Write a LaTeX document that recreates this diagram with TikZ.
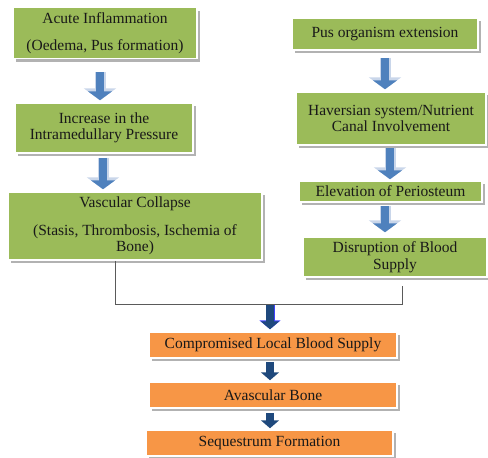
\documentclass[tikz,border=0pt]{standalone}
\usepackage{fontspec}
\setmainfont{Liberation Serif}
\usetikzlibrary{arrows.meta,shadows,calc}
\definecolor{boxgreen}{HTML}{9BBB59}
\definecolor{boxorange}{HTML}{F79646}
\definecolor{arrblue}{HTML}{4F81BD}
\definecolor{arrlight}{HTML}{C9D6EA}
\definecolor{arrdark}{HTML}{1F497D}
\definecolor{linegrey}{HTML}{5A5A5A}
\begin{document}
\begin{tikzpicture}[x=1pt,y=-1pt,
  box/.style={draw=white, line width=1.5pt, inner sep=2pt, align=center,
    font=\fontsize{15.5}{16.5}\selectfont, text=black!90,
    drop shadow={shadow xshift=3pt, shadow yshift=-3pt, fill=black!30, opacity=1}},
  gbox/.style={box, fill=boxgreen},
  obox/.style={box, fill=boxorange},
  bluearr/.style={draw=arrblue, line width=8pt, -{Triangle[width=24pt,length=9pt]},
    preaction={draw=arrlight, line width=11pt, -{Triangle[width=32pt,length=12pt]}}},
  darkarr/.style={draw=arrdark, line width=8pt, -{Triangle[width=18pt,length=8pt]}},
  conn/.style={draw=linegrey, line width=1pt}]
\useasboundingbox (0,0) rectangle (488,458);

% left column
\node[gbox, minimum width=184pt, minimum height=51pt] (b1) at (105,33)
  {Acute Inflammation\\[10pt](Oedema, Pus formation)};
\node[gbox, minimum width=178pt, minimum height=50pt] (b2) at (104,128)
  {Increase in the\\Intramedullary Pressure};
\node[gbox, minimum width=254pt, minimum height=68pt] (b3) at (135,226)
  {Vascular Collapse\\[11pt](Stasis, Thrombosis, Ischemia of\\Bone)};

% right column
\node[gbox, minimum width=186pt, minimum height=32pt] (b4) at (385,34)
  {Pus organism extension};
\node[gbox, minimum width=190pt, minimum height=53pt] (b5) at (391,118.5)
  {Haversian system/Nutrient\\Canal Involvement};
\node[gbox, minimum width=183pt, minimum height=21pt, inner sep=0pt] (b6) at (390.5,191.5)
  {Elevation of Periosteum};
\node[gbox, minimum width=184pt, minimum height=40pt] (b7) at (395,257)
  {Disruption of Blood\\Supply};

% bottom
\node[obox, minimum width=248pt, minimum height=26pt, inner sep=0pt] (b8) at (273,345)
  {Compromised Local Blood Supply};
\node[obox, minimum width=248pt, minimum height=26pt, inner sep=0pt] (b9) at (273,395)
  {Avascular Bone};
\node[obox, minimum width=247pt, minimum height=26pt, inner sep=0pt] (b10) at (269.5,443)
  {Sequestrum Formation};

% block arrows, left
\draw[bluearr] ($(b1.south)+(-5,13)$) -- ($(b1.south |- b2.north)+(-5,-2)$);
\draw[bluearr] ($(b2.south)+(-1,4)$) -- ($(b2.south |- b3.north)+(-1,-2)$);
% block arrows, right
\draw[bluearr] ($(b4.south)+(0,7)$) -- ($(b4.south |- b5.north)+(0,-2)$);
\draw[bluearr] ($(b5.south)+(-1,2)$) -- ($(b5.south |- b6.north)+(-1,-1)$);
\draw[bluearr] ($(b6.south)+(-5.5,3)$) -- ($(b6.south |- b7.north)+(-5.5,-4)$);

% joining line
\coordinate (jl) at ($(b3.south)+(-20,44)$);
\coordinate (jr) at ($(jl -| b7.south)+(7,0)$);
\coordinate (jm) at ($(jl -| b8.north)+(-3,0)$);
\draw[conn] ($(b3.south)+(-20,0)$) -- (jl) -- (jr) -- ($(jr)+(0,-19)$);

% bottom arrows
\draw[darkarr, preaction={draw=blue!75, line width=9pt, -{Triangle[width=21pt,length=9pt]}}]
  (jm) -- ($(b8.north)+(-3,-2)$);
\draw[darkarr] ($(b8.south)+(-3,3)$) -- ($(b8.south |- b9.north)+(-3,-1)$);
\draw[darkarr] ($(b9.south)+(-3,4)$) -- ($(b9.south |- b10.north)+(-3,-1)$);
\end{tikzpicture}
\end{document}
